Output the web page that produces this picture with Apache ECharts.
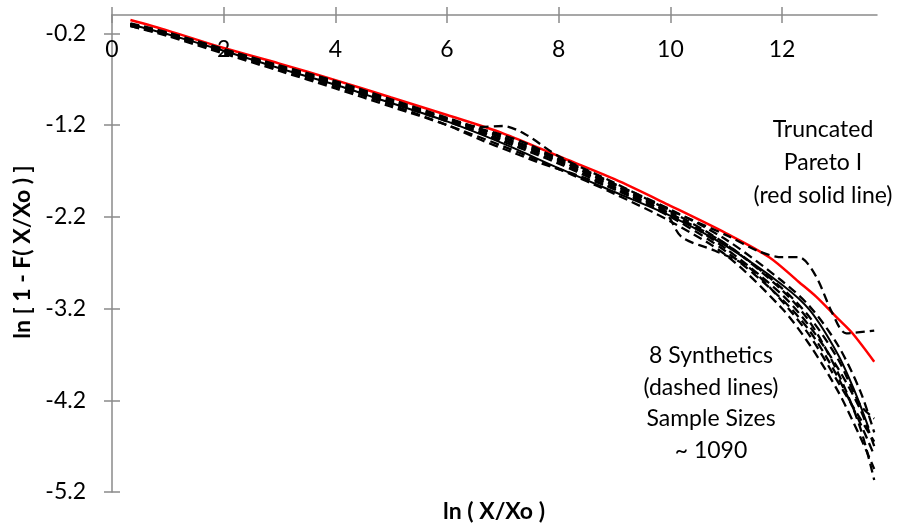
<!DOCTYPE html>
<html><head><meta charset="utf-8">
<script src="https://cdn.jsdelivr.net/npm/echarts@6/dist/echarts.min.js"></script>
<style>html,body{margin:0;padding:0;background:#fff}#c{width:902px;height:529px}</style>
</head><body><div id="c"></div>
<script>
const xTicks = [0, 2, 4, 6, 8, 10, 12];
const yTicks = [-5.2, -4.2, -3.2, -2.2, -1.2, -0.2];

// Truncated Pareto I (red solid line)
const pareto = [[0.33,-0.055],[1,-0.17],[2,-0.36],[3,-0.53],[4,-0.71],[5,-0.90],[6,-1.09],[7,-1.29],[8,-1.54],[9,-1.79],[10,-2.08],[11,-2.38],[11.77,-2.64],[12.3,-2.91],[12.61,-3.07],[13.0,-3.31],[13.26,-3.47],[13.65,-3.78]];
// Observed data (black solid line)
const observed = [[0.33,-0.10],[1,-0.21],[2,-0.39],[3,-0.58],[4,-0.76],[5,-0.96],[6,-1.16],[7,-1.40],[8,-1.67],[9,-1.93],[10,-2.19],[11,-2.52],[12,-2.94],[12.5,-3.22],[13,-3.70],[13.3,-4.1],[13.55,-4.5]];
// 8 synthetics (dashed lines)
const syn1 = [[0.33,-0.10],[1,-0.20],[2,-0.38],[3,-0.56],[4,-0.73],[5,-0.93],[6,-1.13],[7,-1.34],[8,-1.58],[9,-1.85],[10,-2.13],[11,-2.40],[11.6,-2.58],[12.0,-2.64],[12.3,-2.64],[12.6,-2.84],[12.9,-3.25],[13.15,-3.47],[13.65,-3.44]];
const syn2 = [[0.33,-0.11],[1,-0.21],[2,-0.39],[3,-0.57],[4,-0.75],[5,-0.95],[6,-1.13],[6.6,-1.22],[7.0,-1.21],[7.4,-1.30],[8,-1.54],[9,-1.83],[10,-2.14],[11,-2.50],[12,-3.0],[12.5,-3.35],[13,-3.9],[13.4,-4.5],[13.65,-5.07]];
const syn3 = [[0.33,-0.12],[1,-0.22],[2,-0.41],[3,-0.60],[4,-0.78],[5,-0.98],[6,-1.2],[6.6,-1.36],[7.1,-1.48],[7.7,-1.62],[8.3,-1.74],[9,-1.9],[10,-2.2],[11,-2.58],[12,-3.1],[12.5,-3.45],[13,-3.95],[13.4,-4.45],[13.65,-4.8]];
const syn4 = [[0.33,-0.10],[1,-0.21],[2,-0.40],[3,-0.58],[4,-0.76],[5,-0.96],[6,-1.16],[7,-1.38],[8,-1.62],[9,-1.9],[9.9,-2.15],[10.2,-2.42],[10.8,-2.57],[11.4,-2.75],[12,-3.12],[12.5,-3.5],[13,-4.0],[13.4,-4.4],[13.65,-4.65]];
const syn5 = [[0.33,-0.09],[1,-0.19],[2,-0.37],[3,-0.55],[4,-0.72],[5,-0.92],[6,-1.12],[7,-1.33],[8,-1.56],[9,-1.84],[10,-2.12],[11,-2.45],[12,-2.9],[12.5,-3.18],[13,-3.6],[13.4,-4.1],[13.65,-4.55]];
const syn6 = [[0.33,-0.12],[1,-0.23],[2,-0.42],[3,-0.61],[4,-0.80],[5,-1.0],[6,-1.2],[7,-1.43],[8,-1.68],[9,-1.95],[10,-2.25],[11,-2.62],[12,-3.2],[12.5,-3.6],[13,-4.1],[13.4,-4.6],[13.65,-4.95]];
const syn7 = [[0.33,-0.11],[1,-0.21],[2,-0.39],[3,-0.57],[4,-0.75],[5,-0.95],[6,-1.15],[7,-1.36],[8,-1.6],[9,-1.88],[10,-2.17],[11,-2.5],[12,-2.98],[12.5,-3.3],[13,-3.75],[13.4,-4.25],[13.65,-4.4]];
const syn8 = [[0.33,-0.10],[1,-0.20],[2,-0.38],[3,-0.56],[4,-0.74],[5,-0.94],[6,-1.14],[7,-1.31],[7.5,-1.42],[8,-1.58],[9,-1.86],[10,-2.16],[11,-2.55],[12,-3.05],[12.5,-3.4],[13,-3.85],[13.4,-4.3],[13.65,-4.7]];
const synthetics = [syn1, syn2, syn3, syn4, syn5, syn6, syn7, syn8];

const axisColor = '#8a8a8a';
const font = 'Lato';
const chart = echarts.init(document.getElementById('c'), null, {renderer: 'canvas'});

const series = [];
synthetics.forEach((d, i) => series.push({
  name: 'Synthetic ' + (i + 1), type: 'line', data: d, showSymbol: false, smooth: 0.3,
  lineStyle: {color: '#000', width: 2.3, type: [9, 5]}, z: 3
}));
series.push({name: 'Observed', type: 'line', data: observed, showSymbol: false, smooth: 0.3,
  lineStyle: {color: '#000', width: 2}, z: 4});
series.push({name: 'Truncated Pareto I', type: 'line', data: pareto, showSymbol: false, smooth: 0.3,
  lineStyle: {color: '#ff0000', width: 2.5}, z: 2});

chart.setOption({
  animation: false,
  backgroundColor: '#fff',
  grid: {left: 112, right: 25, top: 15, bottom: 37},
  xAxis: [
    {type: 'value', min: 0, max: 13.7, position: 'top',
     axisLine: {show: true, onZero: false, lineStyle: {color: axisColor, width: 1.5}},
     axisTick: {show: true, length: 8, customValues: xTicks, lineStyle: {color: axisColor, width: 1.5}},
     axisLabel: {show: true, inside: true, margin: 23, customValues: xTicks, color: '#000', fontSize: 23, fontFamily: font},
     splitLine: {show: false}},
    {type: 'value', min: 0, max: 13.7, position: 'top',
     axisLine: {show: false},
     axisTick: {show: true, inside: true, length: 8, customValues: xTicks, lineStyle: {color: axisColor, width: 1.5}},
     axisLabel: {show: false}, splitLine: {show: false}}
  ],
  yAxis: [
    {type: 'value', min: -5.2, max: 0, position: 'left',
     axisLine: {show: true, onZero: false, lineStyle: {color: axisColor, width: 1.5}},
     axisTick: {show: true, length: 8, customValues: yTicks, lineStyle: {color: axisColor, width: 1.5}},
     axisLabel: {show: true, margin: 26, customValues: yTicks, color: '#000', fontSize: 23, fontFamily: font,
       formatter: v => v.toFixed(1)},
     splitLine: {show: false}},
    {type: 'value', min: -5.2, max: 0, position: 'left',
     axisLine: {show: false},
     axisTick: {show: true, inside: true, length: 8, customValues: yTicks, lineStyle: {color: axisColor, width: 1.5}},
     axisLabel: {show: false}, splitLine: {show: false}}
  ],
  series: series,
  graphic: [
    {type: 'text', x: 23, y: 252, rotation: Math.PI / 2,
     style: {text: 'ln [ 1 - F( X/Xo ) ]', font: 'bold 23px ' + font, fill: '#000', align: 'center', verticalAlign: 'middle'}},
    {type: 'text', x: 494, y: 512,
     style: {text: 'ln ( X/Xo )', font: 'bold 23px ' + font, fill: '#000', align: 'center', verticalAlign: 'middle'}},
    {type: 'text', x: 823, y: 163,
     style: {text: 'Truncated\nPareto I\n(red solid line)', font: '23px ' + font, lineHeight: 33, fill: '#000', align: 'center', verticalAlign: 'middle'}},
    {type: 'text', x: 711, y: 403,
     style: {text: '8 Synthetics\n(dashed lines)\nSample Sizes\n~ 1090', font: '23px ' + font, lineHeight: 31.5, fill: '#000', align: 'center', verticalAlign: 'middle'}}
  ]
});
</script>
</body></html>
